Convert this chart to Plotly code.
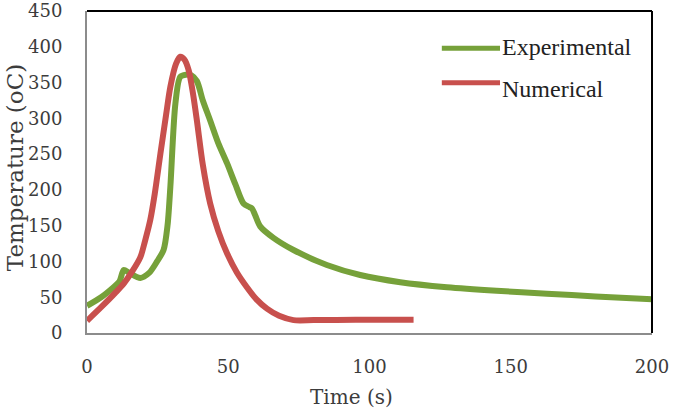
import plotly.graph_objects as go

exp_t = [0, 5, 9.4, 11.5, 13, 15, 18.9, 22, 24.8, 27.1, 28.5, 29.5, 31.3, 33, 35, 37, 38.9, 41, 43.6, 46.5, 49.6, 52.5, 55.4, 57.5, 58.4, 59.5, 61.3, 66, 73.1, 84.9, 96.7, 110.9, 127.4, 145, 162.8, 180, 200]
exp_T = [38, 50, 64, 72, 88, 84, 77, 84, 100, 116, 150, 204, 321, 358, 361, 360, 352, 325, 297, 265, 237, 208, 181, 176, 174, 165, 149, 133, 116, 95, 81, 71, 64, 59, 55, 51, 47]

num_t = [0, 5, 10, 13, 16, 18.9, 20.5, 22.4, 24, 26, 28, 29.5, 31.5, 33, 34.5, 36, 37.5, 38.9, 41, 43.6, 46.5, 49.6, 53, 56.6, 60, 63.7, 68, 73.1, 80.2, 95, 110.9, 115.6]
num_T = [17, 36, 56, 69, 86, 106, 128, 158, 195, 251, 305, 344, 376, 386, 382, 367, 335, 297, 235, 181, 142, 111, 85, 64, 47, 34, 24, 18, 18, 18.5, 18.5, 18.5]

x_ticks = [0, 50, 100, 150, 200]
y_ticks = [0, 50, 100, 150, 200, 250, 300, 350, 400, 450]

GREEN = "#76A13A"
RED = "#C8504D"
TXT = "#3c3c3c"
TICK_FONT = dict(family="DejaVu Serif", size=18, color=TXT)

fig = go.Figure()
fig.add_trace(go.Scatter(x=exp_t, y=exp_T, mode="lines", name="Experimental",
                         line=dict(color=GREEN, width=6, shape="spline", smoothing=0.8)))
fig.add_trace(go.Scatter(x=num_t, y=num_T, mode="lines", name="Numerical",
                         line=dict(color=RED, width=6, shape="spline", smoothing=0.8)))

fig.update_layout(
    width=674, height=408,
    margin=dict(l=87, r=22, t=11, b=75),
    paper_bgcolor="white", plot_bgcolor="white",
    showlegend=False,
    xaxis=dict(range=[0, 200], tickvals=x_ticks, showgrid=False, zeroline=False,
               showline=True, linecolor="#8c8c8c", linewidth=2, ticks="", automargin=False,
               tickfont=TICK_FONT, ticklabelstandoff=16),
    yaxis=dict(range=[0, 450], tickvals=y_ticks, showgrid=False, zeroline=False,
               showline=True, linecolor="#8c8c8c", linewidth=2, ticks="", automargin=False,
               tickfont=TICK_FONT, ticklabelstandoff=19),
)

# axis titles
fig.add_annotation(xref="paper", yref="paper", x=0, xshift=-72, y=0.512, text="Temperature (oC)",
                   textangle=-90, showarrow=False, xanchor="center", yanchor="middle",
                   font=dict(family="DejaVu Serif", size=23, color=TXT))
fig.add_annotation(xref="paper", yref="paper", x=0.469, y=-0.199, text="Time (s)",
                   showarrow=False, xanchor="center", yanchor="middle",
                   font=dict(family="DejaVu Serif", size=20, color=TXT))

# top and right frame lines (black)
fig.add_shape(type="line", xref="paper", yref="paper", x0=0, x1=1, y0=1, y1=1,
              line=dict(color="black", width=2))
fig.add_shape(type="line", xref="paper", yref="paper", x0=1, x1=1, y0=0, y1=1,
              line=dict(color="black", width=2))

# manual legend
legend_items = [("Experimental", GREEN, 0.884, 0.889), ("Numerical", RED, 0.777, 0.759)]
for name, color, yl, yt in legend_items:
    fig.add_shape(type="line", xref="paper", yref="paper", x0=0.628, x1=0.731, y0=yl, y1=yl,
                  line=dict(color=color, width=5))
    fig.add_annotation(xref="paper", yref="paper", x=0.731, y=yt, text=name,
                       showarrow=False, xanchor="left", yanchor="middle",
                       font=dict(family="Liberation Serif", size=24, color="#222222"))

fig.write_html("out.html")
